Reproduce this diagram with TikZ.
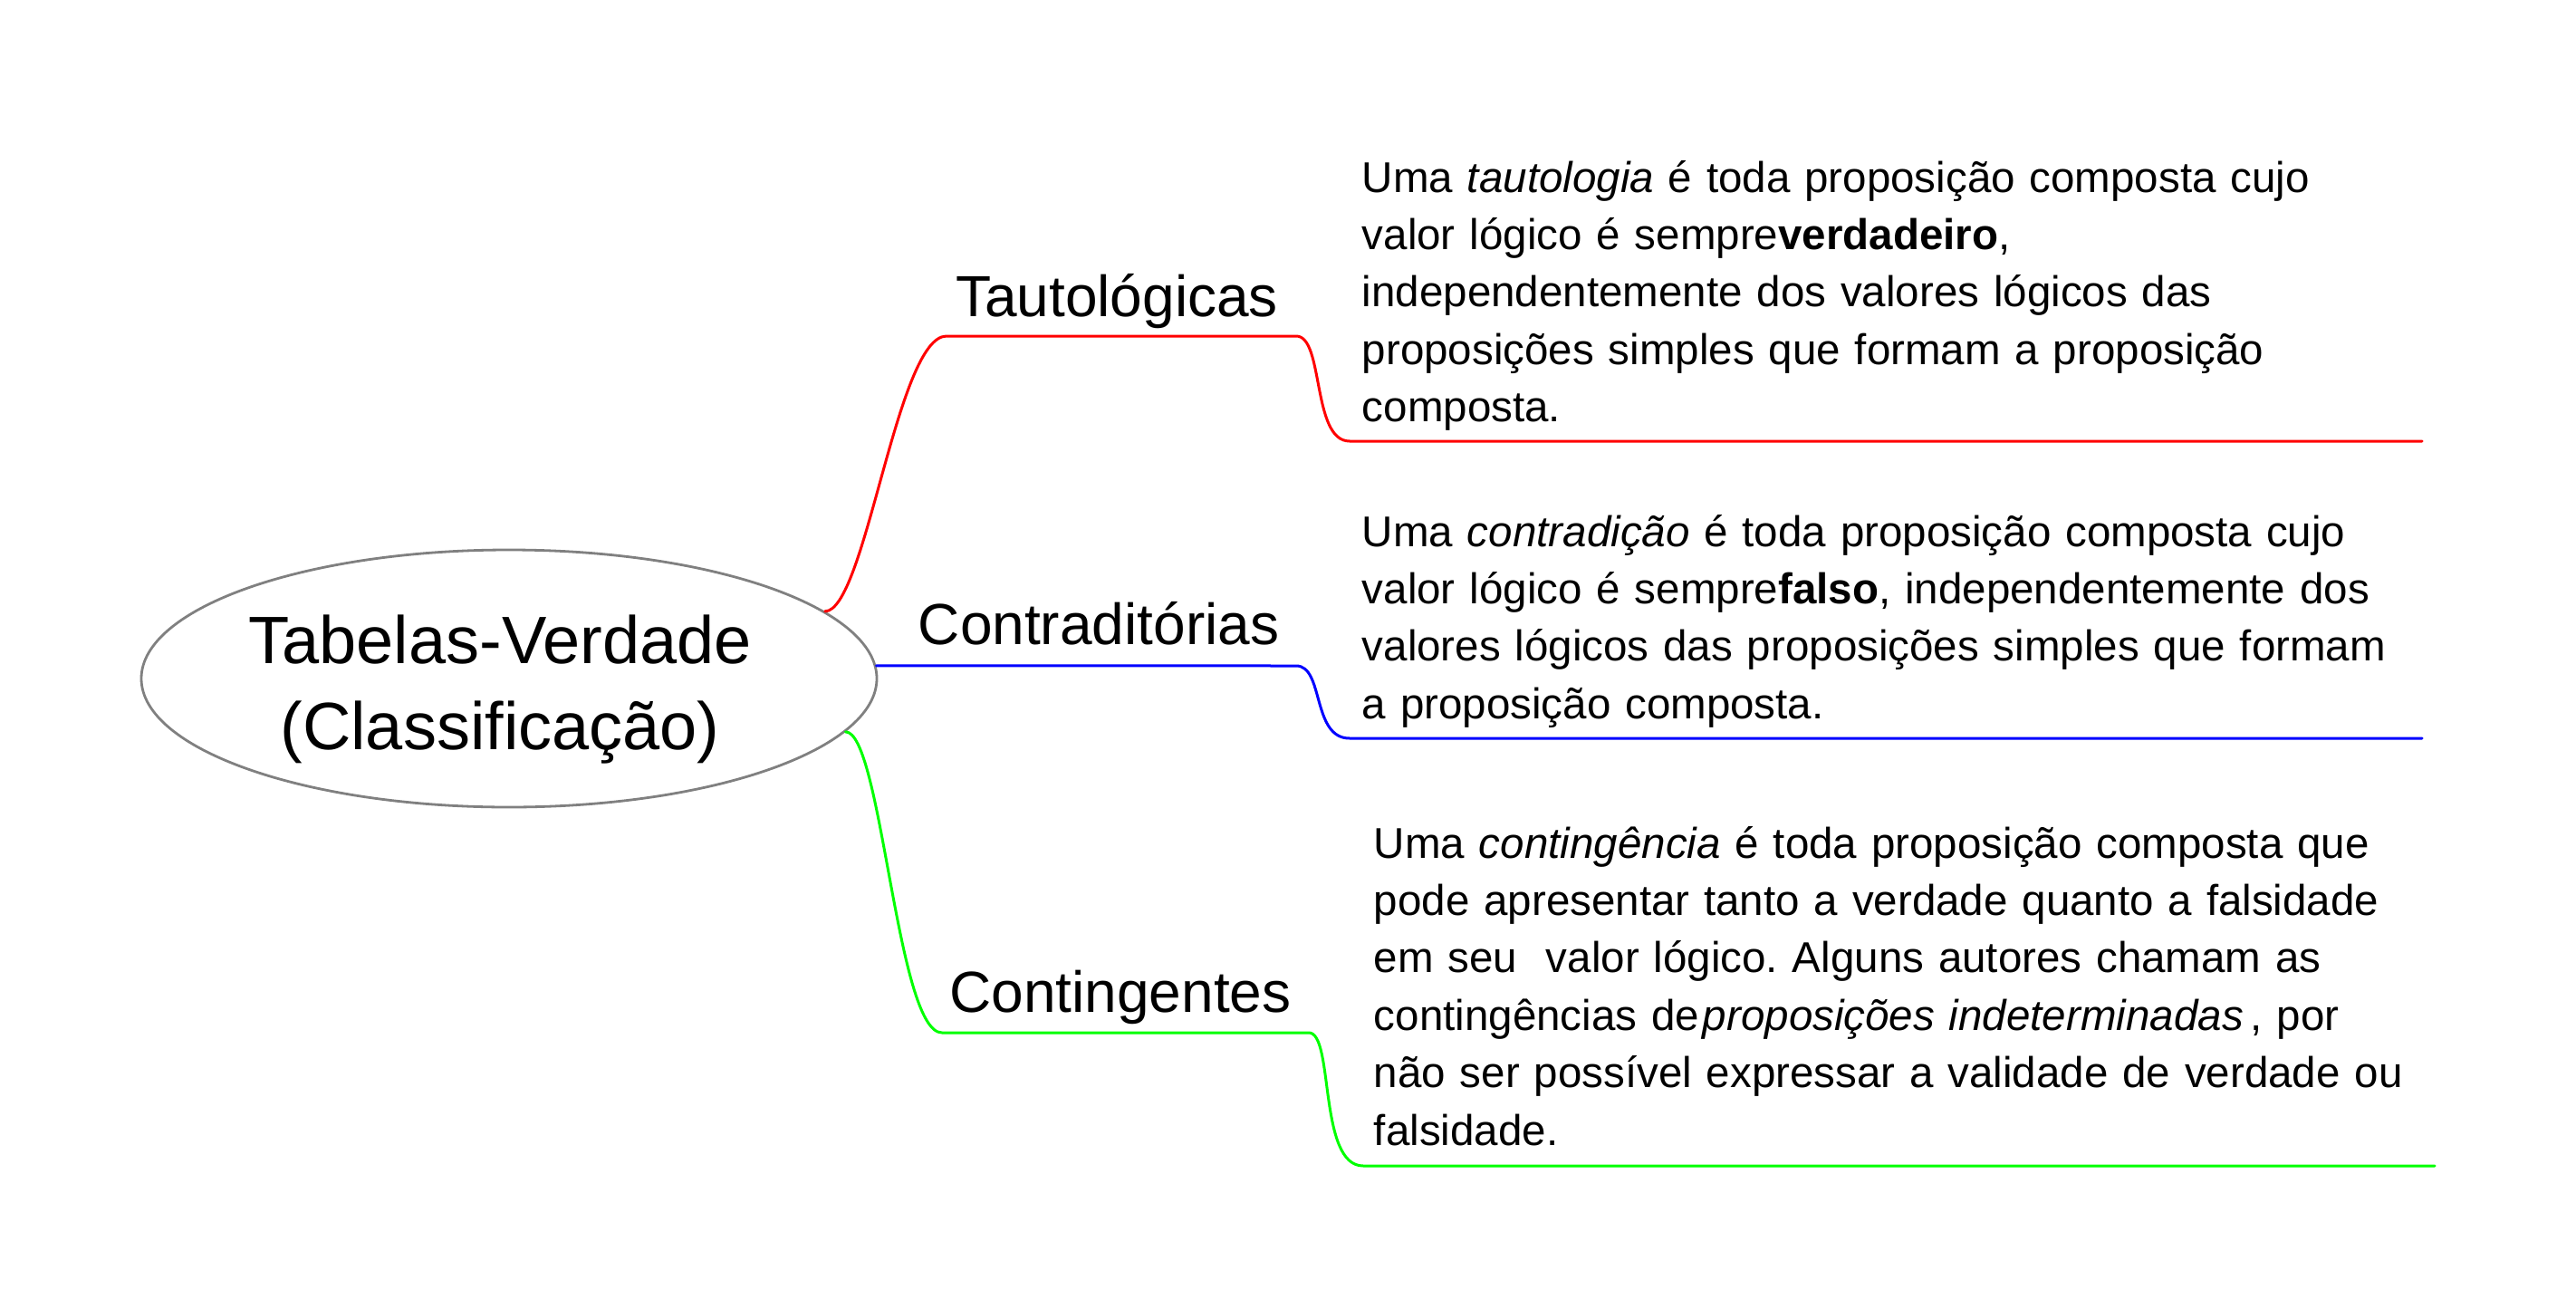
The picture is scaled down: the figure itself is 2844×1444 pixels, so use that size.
\documentclass[tikz,border=0pt]{standalone}
\usepackage{fontspec}
\setmainfont{Liberation Sans}
\usetikzlibrary{shapes.geometric}
\definecolor{ellgray}{RGB}{128,128,128}
\definecolor{tred}{RGB}{255,0,0}
\definecolor{tblue}{RGB}{0,0,255}
\definecolor{tgreen}{RGB}{0,255,0}
\frenchspacing
\begin{document}
\begin{tikzpicture}[x=0.25pt,y=-0.25pt,
  branch/.style={line width=0.75pt, line cap=round, line join=round},
  center/.style={ellipse, draw=ellgray, line width=0.7pt, minimum width=203pt, minimum height=71pt, inner sep=0pt},
  title/.style={font=\fontsize{18.5}{23.75}\selectfont, inner sep=0pt, anchor=base, text width=200pt, align=center},
  catlabel/.style={font=\fontsize{16}{19}\selectfont, inner sep=0pt, anchor=base},
  body/.style={font=\fontsize{11.88}{15.85}\selectfont, inner sep=0pt, anchor=base west, text width=300pt, align=left}]
\useasboundingbox (0,0) rectangle (2844,1444);

% central ellipse and title
\node[center] (ell) at (562,749) {};
\node[title] (ttl) at (552,732) {Tabelas-Verdade\\(Classificação)};

% category labels
\node[catlabel] (taut) at (1233,349) {Tautológicas};
\node[catlabel] (contr) at (1213,711) {Contraditórias};
\node[catlabel] (conti) at (1237,1117) {Contingentes};

% definitions
\node[body] (d1) at (1503,212) {Uma \textit{tautologia} é toda proposição composta cujo\\
valor lógico é sempre\textbf{verdadeiro},\\
independentemente dos valores lógicos das\\
proposições simples que formam a proposição\\
composta.};
\node[body] (d2) at (1503,603) {Uma \textit{contradição} é toda proposição composta cujo\\
valor lógico é sempre\textbf{falso}, independentemente dos\\
valores lógicos das proposições simples que formam\\
a proposição composta.};
\node[body] (d3) at (1516,947) {Uma \textit{contingência} é toda proposição composta que\\
pode apresentar tanto a verdade quanto a falsidade\\
em seu\ \ valor lógico. Alguns autores chamam as\\
contingências de\hspace{0.08em}\textit{proposições indeterminadas}\,, por\\
não ser possível expressar a validade de verdade ou\\
falsidade.};

% connector waypoints
\coordinate (r1) at (1045,371);
\coordinate (r2) at (1431,371);
\coordinate (r3) at (1490,487);
\coordinate (r4) at (2674,487);
\coordinate (b1) at (1431,735);
\coordinate (b2) at (1490,815);
\coordinate (b3) at (2674,815);
\coordinate (g1) at (1040,1140);
\coordinate (g2) at (1445,1140);
\coordinate (g3) at (1505,1287);
\coordinate (g4) at (2688,1287);

% branches
\draw[branch, tred] (ell.12.7) .. controls +(45,0) and +(-55,0) .. (r1) -- (r2)
  .. controls +(31,0) and +(-42,0) .. (r3) -- (r4);
\draw[branch, tblue] (ell.2) -- (b1)
  .. controls +(31,0) and +(-42,0) .. (b2) -- (b3);
\draw[branch, tgreen] (ell.-9.77) .. controls +(40,0) and +(-50,0) .. (g1) -- (g2)
  .. controls +(28,0) and +(-50,0) .. (g3) -- (g4);
\end{tikzpicture}
\end{document}
